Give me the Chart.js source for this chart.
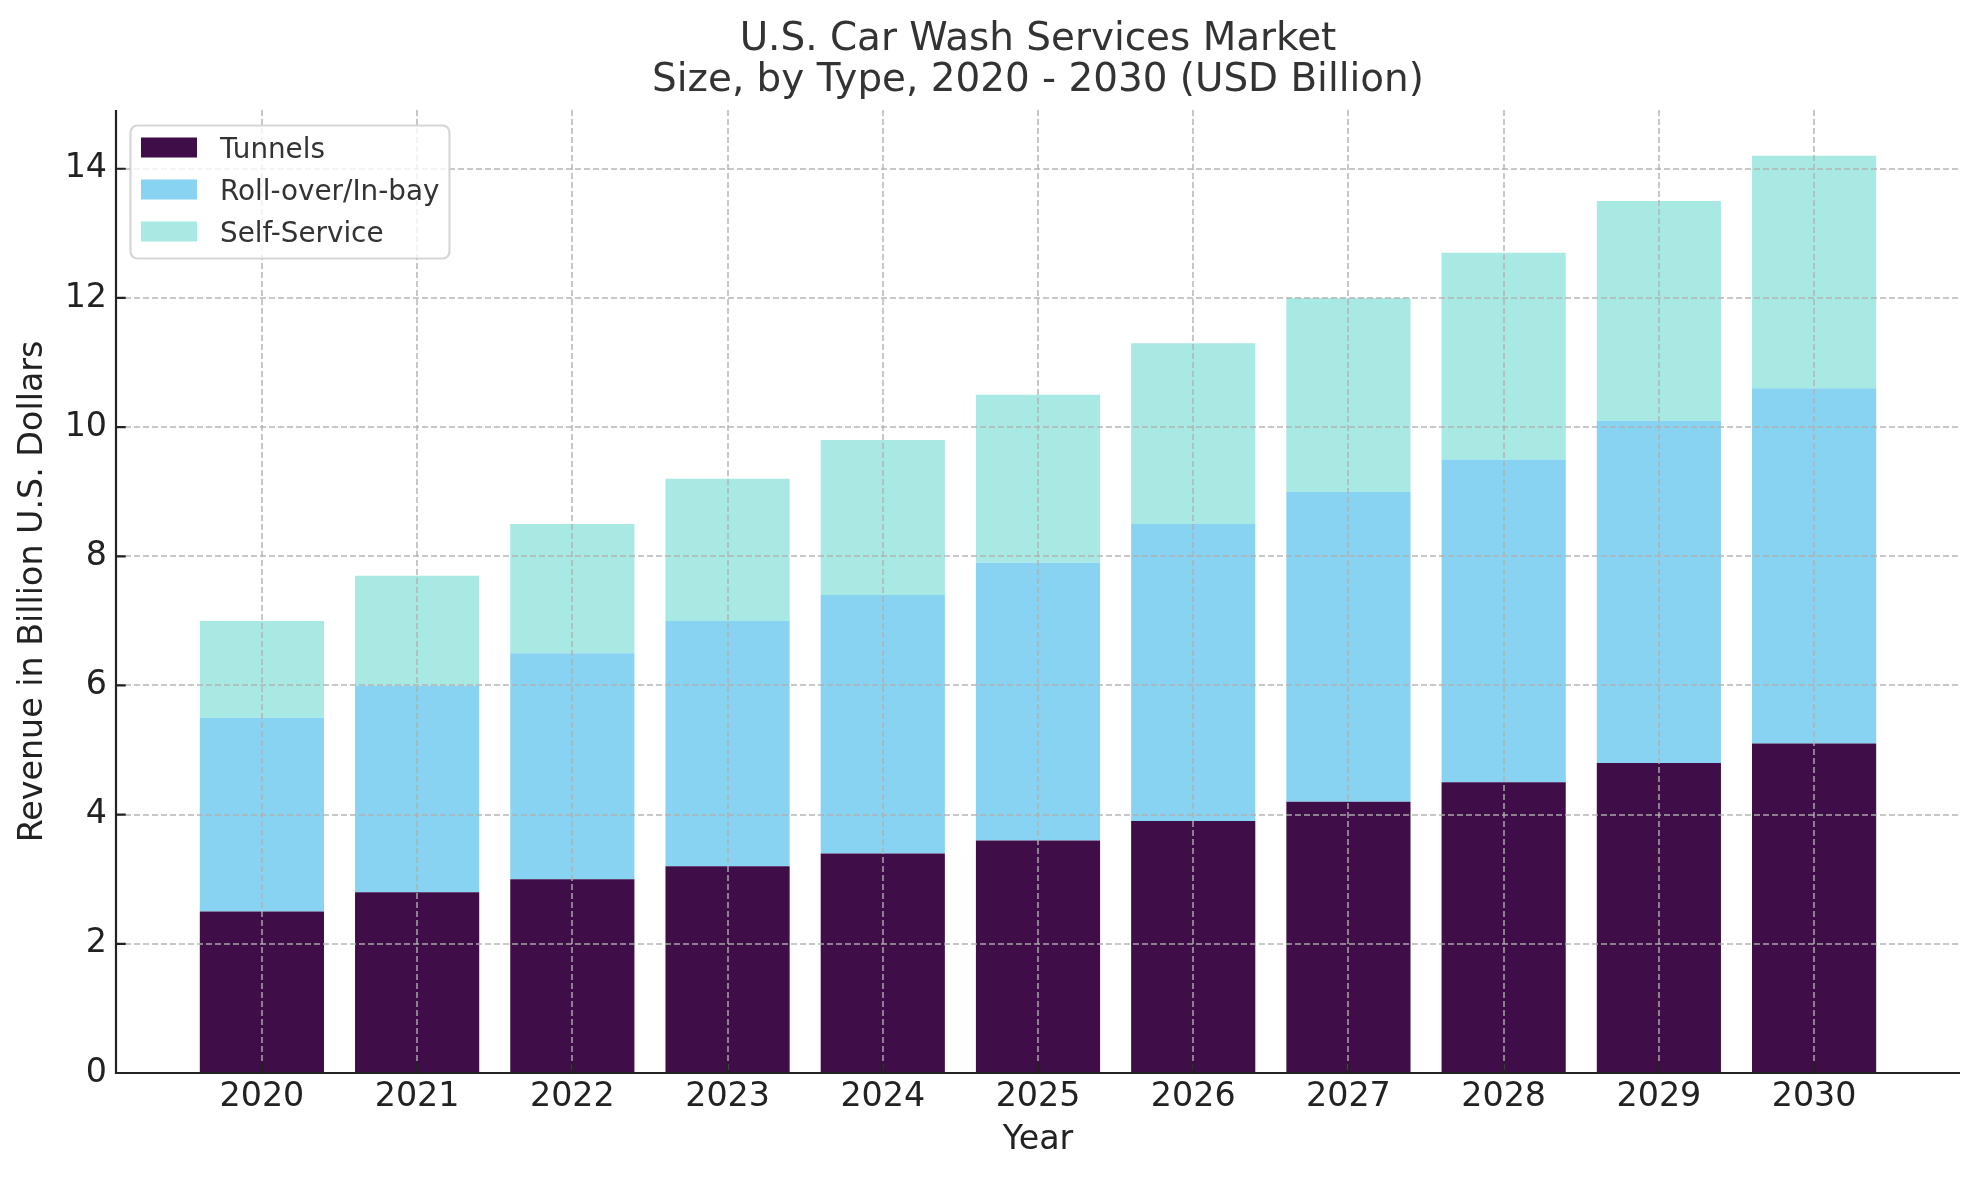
<!DOCTYPE html>
<html>
<head>
<meta charset="utf-8">
<script src="https://cdn.jsdelivr.net/npm/chart.js@4/dist/chart.umd.min.js"></script>
<style>
  html, body { margin: 0; padding: 0; background: #ffffff; }
  #wrap { width: 1979px; height: 1180px; }
</style>
</head>
<body>
<div id="wrap"><canvas id="c" width="1979" height="1180"></canvas></div>
<script>
const years = [2020, 2021, 2022, 2023, 2024, 2025, 2026, 2027, 2028, 2029, 2030];
const tunnels = [2.5, 2.8, 3.0, 3.2, 3.4, 3.6, 3.9, 4.2, 4.5, 4.8, 5.1];
const rollOver = [3.0, 3.2, 3.5, 3.8, 4.0, 4.3, 4.6, 4.8, 5.0, 5.3, 5.5];
const selfService = [1.5, 1.7, 2.0, 2.2, 2.4, 2.6, 2.8, 3.0, 3.2, 3.4, 3.6];
const seriesNames = ['Tunnels', 'Roll-over/In-bay', 'Self-Service'];
const seriesColors = ['#3f0e48', '#88d3f2', '#a8e9e3'];
const yTicks = [0, 2, 4, 6, 8, 10, 12, 14];
const titleLines = ['U.S. Car Wash Services Market', 'Size, by Type, 2020 - 2030 (USD Billion)'];
const xTitle = 'Year';
const yTitle = 'Revenue in Billion U.S. Dollars';

const FONT = "'DejaVu Sans', sans-serif";
const gridColor = 'rgba(176,176,176,0.7)';
const textColor = '#222222';

const decor = {
  id: 'decor',
  afterDraw(chart) {
    const ctx = chart.ctx;
    const ca = chart.chartArea;
    const xs = chart.scales.x, ys = chart.scales.y;
    ctx.save();
    // spines
    ctx.strokeStyle = '#222222';
    ctx.lineWidth = 2.2;
    ctx.lineCap = 'butt';
    ctx.setLineDash([]);
    ctx.beginPath();
    ctx.moveTo(ca.left, ca.top);
    ctx.lineTo(ca.left, ca.bottom + 1.1);
    ctx.moveTo(ca.left - 1.1, ca.bottom);
    ctx.lineTo(ca.right, ca.bottom);
    ctx.stroke();
    // inward ticks
    ctx.beginPath();
    xs.ticks.forEach(t => {
      const px = xs.getPixelForValue(t.value);
      ctx.moveTo(px, ca.bottom);
      ctx.lineTo(px, ca.bottom - 9.7);
    });
    ys.ticks.forEach(t => {
      const py = ys.getPixelForValue(t.value);
      ctx.moveTo(ca.left, py);
      ctx.lineTo(ca.left + 9.7, py);
    });
    ctx.stroke();
    // title
    ctx.fillStyle = '#333333';
    ctx.font = '38.9px ' + FONT;
    ctx.textAlign = 'center';
    ctx.textBaseline = 'alphabetic';
    const cx = (ca.left + ca.right) / 2;
    ctx.fillText(titleLines[0], cx, 50);
    ctx.fillText(titleLines[1], cx, 91);
    // legend
    const lx = ca.left + 14.5, ly = ca.top + 15.5, lw = 319, lh = 133;
    ctx.beginPath();
    ctx.roundRect(lx, ly, lw, lh, 7);
    ctx.fillStyle = 'rgba(255,255,255,0.8)';
    ctx.fill();
    ctx.strokeStyle = 'rgba(204,204,204,0.8)';
    ctx.lineWidth = 2.2;
    ctx.stroke();
    ctx.font = '27.8px ' + FONT;
    ctx.textAlign = 'left';
    chart.data.datasets.forEach((ds, i) => {
      const base = ly + 32 + i * 42;
      ctx.fillStyle = ds.backgroundColor;
      ctx.fillRect(lx + 10.5, base - 20, 56, 20);
      ctx.fillStyle = '#333333';
      ctx.fillText(ds.label, lx + 89.5, base);
    });
    ctx.restore();
  }
};

const datasets = [tunnels, rollOver, selfService].map((vals, i) => ({
  label: seriesNames[i],
  data: vals,
  backgroundColor: seriesColors[i],
  borderWidth: 0,
  categoryPercentage: 1.0,
  barPercentage: 0.8
}));

new Chart(document.getElementById('c'), {
  type: 'bar',
  data: { labels: years, datasets },
  options: {
    responsive: false,
    animation: false,
    devicePixelRatio: 1,
    layout: { padding: { top: 110, right: 19, left: 0, bottom: 0 } },
    plugins: {
      legend: { display: false },
      title: { display: false },
      tooltip: { enabled: false }
    },
    scales: {
      x: {
        type: 'linear',
        stacked: true,
        min: years[0] - 0.94,
        max: years[years.length - 1] + 0.94,
        offset: false,
        afterBuildTicks: s => { s.ticks = years.map(v => ({ value: v })); },
        afterFit: s => { s.height = 107; },
        ticks: {
          padding: 4.5,
          autoSkip: false,
          maxRotation: 0,
          color: textColor,
          font: { family: FONT, size: 33.3, lineHeight: 1.2 },
          callback: v => String(v)
        },
        grid: { color: gridColor, lineWidth: 2, drawTicks: false, offset: false, z: 1 },
        border: { display: false, dash: [6, 3] },
        title: {
          display: true, text: xTitle, color: textColor,
          font: { family: FONT, size: 33.3, lineHeight: 1.2 },
          padding: { top: 0, bottom: 19.5 }
        }
      },
      y: {
        stacked: true,
        min: 0,
        max: 14.91,
        afterBuildTicks: s => { s.ticks = yTicks.map(v => ({ value: v })); },
        afterFit: s => { s.width = 116; },
        ticks: {
          padding: 9,
          color: textColor,
          font: { family: FONT, size: 33.3, lineHeight: 1.2 },
          callback: v => String(v)
        },
        grid: {
          color: c => (c.tick && c.tick.value === 0) ? 'rgba(0,0,0,0)' : gridColor,
          lineWidth: 2, drawTicks: false, offset: false, z: 1
        },
        border: { display: false, dash: [6, 3] },
        title: {
          display: true, text: yTitle, color: textColor,
          font: { family: FONT, size: 33.3, lineHeight: 1.2 },
          padding: { top: 13.5, bottom: 0 }
        }
      }
    }
  },
  plugins: [decor]
});
</script>
</body>
</html>
